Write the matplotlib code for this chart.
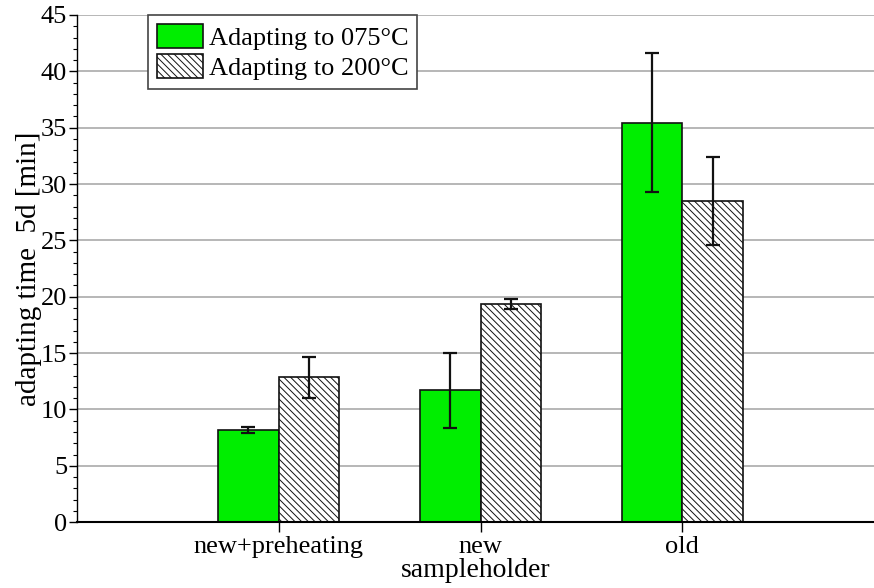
import matplotlib.pyplot as plt
import numpy as np
from matplotlib.ticker import MultipleLocator

plt.rcParams["font.family"] = ["Liberation Serif", "DejaVu Serif"]
plt.rcParams["hatch.linewidth"] = 0.7

# adapting times per sampleholder (mean and error)
holders = ["new+preheating", "new", "old"]
t075 = [8.15, 11.7, 35.45]
t075_err = [0.25, 3.35, 6.2]
t200 = [12.85, 19.35, 28.5]
t200_err = [1.8, 0.45, 3.9]

x = np.arange(1, len(holders) + 1)
w = 0.3

fig = plt.figure(figsize=(8.74, 5.88), dpi=100)
ax = fig.add_axes([0.088, 0.112, 0.912, 0.8625])

ax.bar(x - w / 2, t075, w, color="#00ee00", edgecolor="#111111", linewidth=1.2,
       label="Adapting to 075°C", zorder=3)
ax.bar(x + w / 2, t200, w, color="white", edgecolor="#111111", linewidth=1.2,
       hatch="\\\\\\\\\\", label="Adapting to 200°C", zorder=3)
ax.errorbar(x - w / 2, t075, yerr=t075_err, fmt="none", ecolor="#111111",
            elinewidth=1.6, capsize=5, capthick=1.6, zorder=4)
ax.errorbar(x + w / 2, t200, yerr=t200_err, fmt="none", ecolor="#111111",
            elinewidth=1.6, capsize=5, capthick=1.6, zorder=4)

ax.set_xlim(0, 3.95)
ax.set_ylim(0, 45)
ax.yaxis.set_major_locator(MultipleLocator(5))
ax.yaxis.set_minor_locator(MultipleLocator(1))
ax.set_xticks(x)
ax.set_xticklabels(holders)
ax.grid(axis="y", color="#aaaaaa", linewidth=1.2, zorder=0)

for s in ("top", "right"):
    ax.spines[s].set_visible(False)
ax.spines["left"].set_linewidth(1.0)
ax.spines["bottom"].set_linewidth(1.5)
ax.spines["bottom"].set_zorder(5)

ax.tick_params(axis="y", which="major", length=6, width=1, labelsize=19, pad=1)
ax.tick_params(axis="y", which="minor", length=3, width=0.8)
ax.tick_params(axis="x", length=7, width=1, labelsize=19, pad=3)

ax.set_ylabel("adapting time  5d [min]", fontsize=21, labelpad=-1)
ax.set_xlabel("sampleholder", fontsize=20, labelpad=0)

leg = ax.legend(loc="upper left", bbox_to_anchor=(0.089, 1.0), fontsize=19,
                fancybox=False, framealpha=1, edgecolor="#444444",
                handlelength=1.75, handleheight=1.0, handletextpad=0.2,
                borderpad=0.35, labelspacing=0.15, borderaxespad=0)
leg.get_frame().set_linewidth(1.2)

fig.savefig("out.png", dpi=100)
